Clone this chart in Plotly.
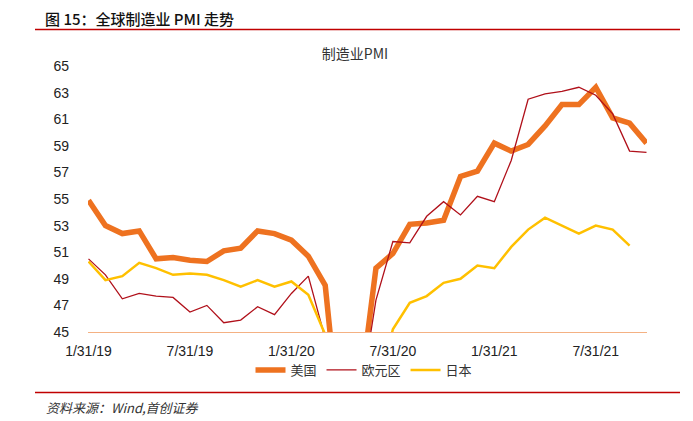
import plotly.graph_objects as go

months = ["1/31/19", "2/28/19", "3/31/19", "4/30/19", "5/31/19", "6/30/19",
          "7/31/19", "8/31/19", "9/30/19", "10/31/19", "11/30/19", "12/31/19",
          "1/31/20", "2/29/20", "3/31/20", "4/30/20", "5/31/20", "6/30/20",
          "7/31/20", "8/31/20", "9/30/20", "10/31/20", "11/30/20", "12/31/20",
          "1/31/21", "2/28/21", "3/31/21", "4/30/21", "5/31/21", "6/30/21",
          "7/31/21", "8/31/21", "9/30/21", "10/31/21"]

us = [54.9, 53.0, 52.4, 52.6, 50.5, 50.6, 50.4, 50.3, 51.1, 51.3, 52.6, 52.4,
      51.9, 50.7, 48.5, 36.1, 39.8, 49.8, 50.9, 53.1, 53.2, 53.4, 56.7, 57.1,
      59.2, 58.6, 59.1, 60.5, 62.1, 62.1, 63.4, 61.1, 60.7, 59.2]

euro = [50.5, 49.3, 47.5, 47.9, 47.7, 47.6, 46.5, 47.0, 45.7, 45.9, 46.9, 46.3,
        47.9, 49.2, 44.5, 33.4, 39.4, 47.4, 51.8, 51.7, 53.7, 54.8, 53.8, 55.2,
        54.8, 57.9, 62.5, 62.9, 63.1, 63.4, 62.8, 61.4, 58.6, 58.5]

japan = [50.3, 48.9, 49.2, 50.2, 49.8, 49.3, 49.4, 49.3, 48.9, 48.4, 48.9, 48.4,
         48.8, 47.8, 44.8, 41.9, 38.4, 40.1, 45.2, 47.2, 47.7, 48.7, 49.0, 50.0,
         49.8, 51.4, 52.7, 53.6, 53.0, 52.4, 53.0, 52.7, 51.5, None]

x_ticks = ["1/31/19", "7/31/19", "1/31/20", "7/31/20", "1/31/21", "7/31/21"]
y_ticks = [45, 47, 49, 51, 53, 55, 57, 59, 61, 63, 65]

series_names = ["美国", "欧元区", "日本"]

W, H = 693, 421
ML, MR, MT, MB = 88, 46, 66, 89
PW = W - ML - MR
PH = H - MT - MB


def px_x(p):
    return (p - ML) / PW


def px_y(p):
    return (H - MB - p) / PH


fig = go.Figure()
fig.add_trace(go.Scatter(x=months, y=us, name=series_names[0], mode="lines",
                         line=dict(color="#EE7220", width=5.5)))
fig.add_trace(go.Scatter(x=months, y=euro, name=series_names[1], mode="lines",
                         line=dict(color="#B0101A", width=1.3)))
fig.add_trace(go.Scatter(x=months, y=japan, name=series_names[2], mode="lines",
                         line=dict(color="#FFC000", width=2.5)))

cjk = "Noto Sans CJK SC"
num_font = "Liberation Sans Narrow, Liberation Sans, Arial"

fig.update_layout(
    width=W, height=H,
    margin=dict(l=ML, r=MR, t=MT, b=MB),
    paper_bgcolor="white", plot_bgcolor="white",
    title=dict(text="制造业PMI", x=px_x(355), xref="paper", xanchor="center",
               y=1 - 54 / H, yref="container", yanchor="middle",
               font=dict(family=cjk, size=14, color="#333333")),
    showlegend=True,
    legend=dict(orientation="h", x=px_x(364), xanchor="center",
                y=px_y(370), yanchor="middle",
                font=dict(family=cjk, size=13, color="#333333"),
                bgcolor="rgba(0,0,0,0)", itemwidth=30, tracegroupgap=0),
    xaxis=dict(type="category", categoryorder="array", categoryarray=months,
               range=[-0.03, 33.03], tickmode="array", tickvals=x_ticks,
               ticktext=x_ticks, showgrid=False, zeroline=False,
               showline=True, linecolor="#F4B183", linewidth=1,
               ticks="", ticklabelstandoff=6,
               tickfont=dict(family=num_font, size=14, color="#222222")),
    yaxis=dict(range=[45, 65], tickmode="array", tickvals=y_ticks,
               showgrid=False, zeroline=False, showline=False, ticks="",
               ticklabelstandoff=18,
               tickfont=dict(family=num_font, size=14, color="#222222")),
    font=dict(family=cjk),
)

fig.add_annotation(text="图 15：全球制造业 PMI 走势", xref="paper", yref="paper",
                   x=px_x(43), y=px_y(18), xanchor="left", yanchor="middle",
                   showarrow=False,
                   font=dict(family="Noto Sans CJK SC Medium, Noto Sans CJK SC",
                             size=15, color="#111111", weight=500))
fig.add_annotation(text="<i>资料来源：Wind,首创证券</i>", xref="paper", yref="paper",
                   x=px_x(44), y=px_y(407), xanchor="left", yanchor="middle",
                   showarrow=False,
                   font=dict(family=cjk, size=13, color="#333333"))

fig.add_shape(type="line", xref="paper", yref="paper",
              x0=px_x(35), x1=px_x(680), y0=px_y(29.5), y1=px_y(29.5),
              line=dict(color="#C00000", width=1.5))
fig.add_shape(type="line", xref="paper", yref="paper",
              x0=px_x(35), x1=px_x(680), y0=px_y(392.5), y1=px_y(392.5),
              line=dict(color="#C00000", width=1.5))

fig.write_html("out.html", config={"displayModeBar": False},
               post_script="document.body.style.margin='0';document.body.style.overflow='hidden';")
